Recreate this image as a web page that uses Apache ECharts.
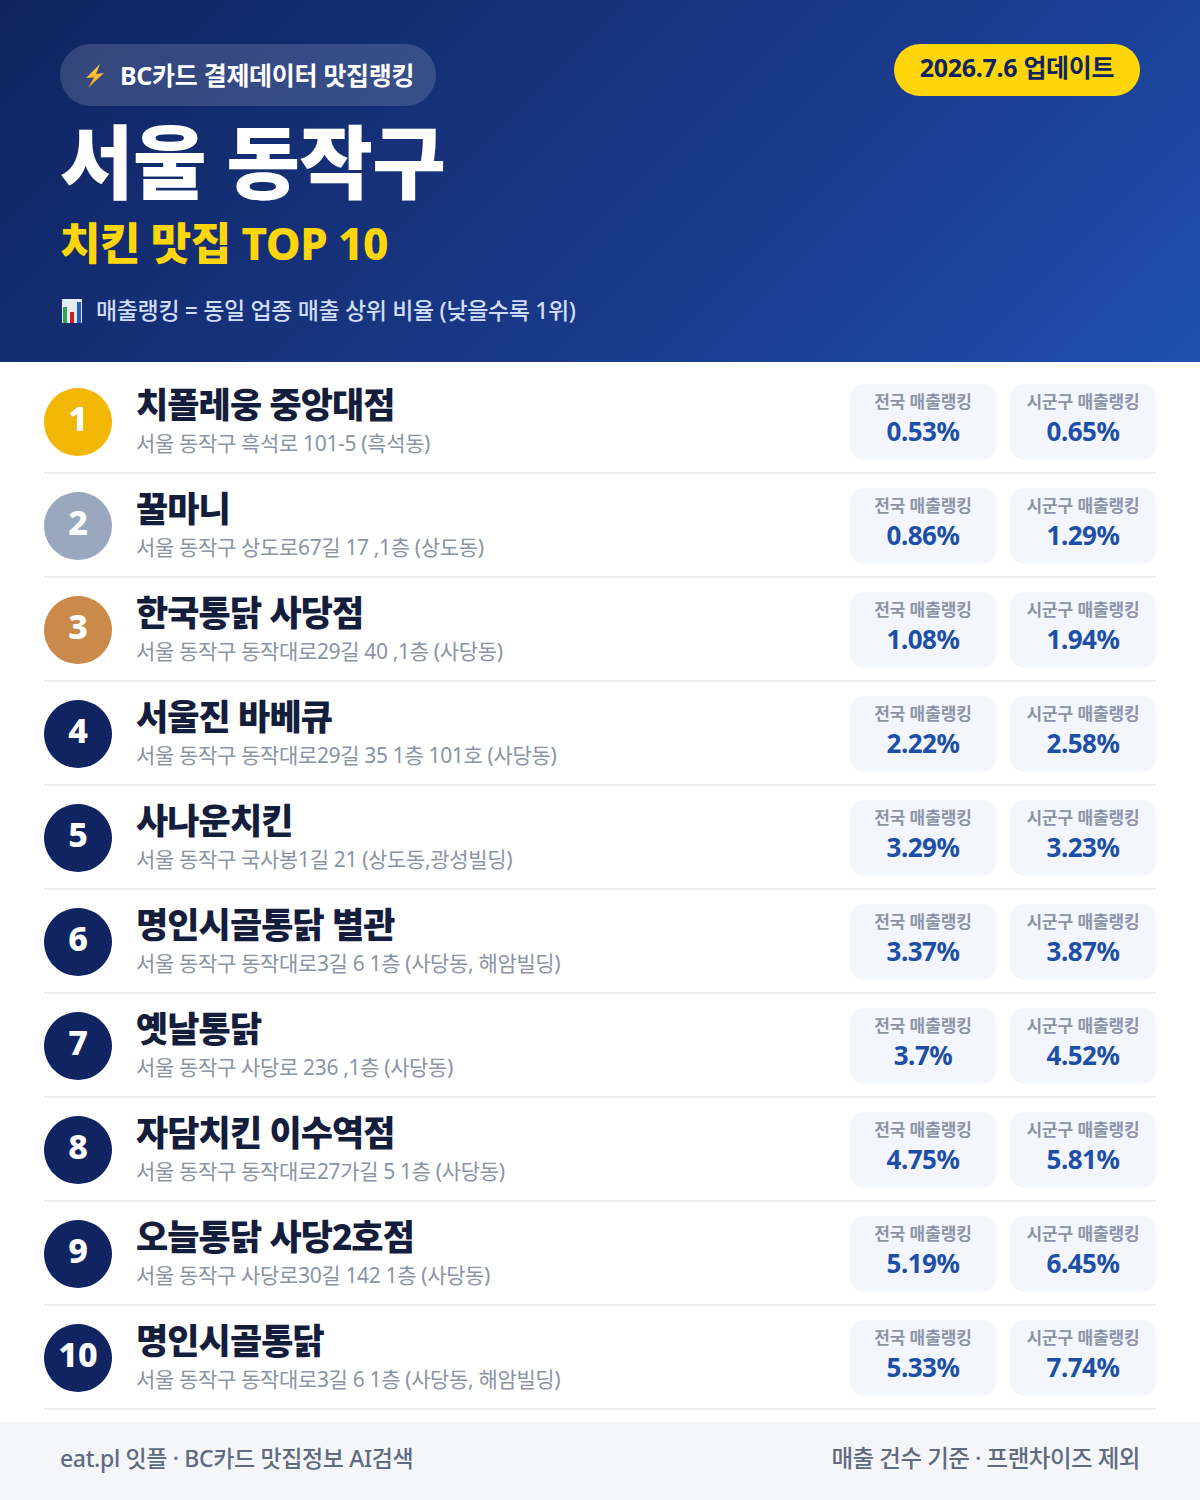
<!DOCTYPE html>
<html lang="ko">
<head>
<meta charset="utf-8">
<style>
html,body{margin:0;padding:0;background:#fff}
#c{width:1200px;height:1500px}
text[style*="80px"]{letter-spacing:-.6px}
text[style*="44px"]{letter-spacing:-.55px}
text[style*="25px"]{letter-spacing:-.3px}
text[style*="35px"]{letter-spacing:-.9px}
text[style*="21px"]{letter-spacing:-.35px}
text[style*="23px"]{letter-spacing:-.35px}
text[style*="23.5px"]{letter-spacing:-.5px}
text[style*="17px"]{letter-spacing:-.1px}
text[style*="26px"]{letter-spacing:-.5px}
</style>
<script src="https://cdn.jsdelivr.net/npm/echarts@6/dist/echarts.min.js"></script>
</head>
<body>
<div id="c"></div>
<script>
const ranks = ['1','2','3','4','5','6','7','8','9','10'];
const names = ['치폴레웅 중앙대점','꿀마니','한국통닭 사당점','서울진 바베큐','사나운치킨','명인시골통닭 별관','옛날통닭','자담치킨 이수역점','오늘통닭 사당2호점','명인시골통닭'];
const addresses = [
  '서울 동작구 흑석로 101-5 (흑석동)',
  '서울 동작구 상도로67길 17 ,1층 (상도동)',
  '서울 동작구 동작대로29길 40 ,1층 (사당동)',
  '서울 동작구 동작대로29길 35 1층 101호 (사당동)',
  '서울 동작구 국사봉1길 21 (상도동,광성빌딩)',
  '서울 동작구 동작대로3길 6 1층 (사당동, 해암빌딩)',
  '서울 동작구 사당로 236 ,1층 (사당동)',
  '서울 동작구 동작대로27가길 5 1층 (사당동)',
  '서울 동작구 사당로30길 142 1층 (사당동)',
  '서울 동작구 동작대로3길 6 1층 (사당동, 해암빌딩)'
];
const nationalRank = [0.53,0.86,1.08,2.22,3.29,3.37,3.7,4.75,5.19,5.33];
const districtRank = [0.65,1.29,1.94,2.58,3.23,3.87,4.52,5.81,6.45,7.74];
const badgeColors = ['#f2b705','#9aa8bf','#c98a4a','#0f2460','#0f2460','#0f2460','#0f2460','#0f2460','#0f2460','#0f2460'];
const labelNational = '전국 매출랭킹';
const labelDistrict = '시군구 매출랭킹';

const FF = '"Noto Sans","Noto Sans CJK KR",sans-serif';
function txt(x,y,text,size,weight,fill,align){
  return {type:'text',silent:true,style:{x:x,y:y,text:text,fill:fill,font:weight+' '+size+'px '+FF,textAlign:align||'left',textVerticalAlign:'middle'}};
}
function card(x,cy,label,value){
  const cx=x+73;
  return [
    {type:'rect',shape:{x:x,y:cy-38,width:146,height:76,r:14},style:{fill:'#f3f6fc'}},
    txt(cx,cy-21,label,17,700,'#8a94a6','center'),
    txt(cx,cy+9,value+'%',26,700,'#1e4fa8','center')
  ];
}
function renderRow(params,api){
  const i=api.value(1);
  const cy=api.coord([0,i])[1];
  return {type:'group',children:[
    {type:'circle',shape:{cx:78,cy:cy,r:34},style:{fill:badgeColors[i]}},
    txt(78,cy-4,ranks[i],34,800,'#ffffff','center'),
    txt(136,cy-18,names[i],35,800,'#141e3c'),
    txt(136,cy+21,addresses[i],21,400,'#8a94a6'),
    {type:'rect',shape:{x:44,y:cy+50,width:1112,height:2},style:{fill:'#eceef2'}}
  ].concat(card(850,cy,labelNational,nationalRank[i]),card(1010,cy,labelDistrict,districtRank[i]))};
}
const option={
  animation:false,
  backgroundColor:'#ffffff',
  grid:{left:0,top:370,width:1200,height:1040},
  xAxis:{type:'value',min:0,max:1200,show:false},
  yAxis:{type:'category',data:ranks,inverse:true,show:false},
  series:[{type:'custom',coordinateSystem:'cartesian2d',clip:false,renderItem:renderRow,encode:{x:0,y:1},
    data:ranks.map((r,i)=>[0,i])}],
  graphic:[
    {type:'rect',z:-1,silent:true,shape:{x:0,y:0,width:1200,height:362},style:{fill:{type:'linear',global:true,x:209.5,y:-209.5,x2:990.5,y2:571.5,
      colorStops:[{offset:0,color:'#0f2460'},{offset:.6,color:'#1a3a8a'},{offset:1,color:'#1e50b0'}]}}},
    {type:'rect',silent:true,shape:{x:60,y:44,width:376,height:62,r:31},style:{fill:'rgba(255,255,255,0.15)'}},
    {type:'polygon',silent:true,shape:{points:[[100,64],[86,78],[94,77.5],[88,88],[104,73],[96,74]]},style:{fill:{type:'linear',x:0,y:0,x2:0,y2:1,colorStops:[{offset:0,color:'#ffd84a'},{offset:1,color:'#f29a1f'}]}}},
    {type:'text',silent:true,style:{x:120,y:75,text:'BC카드 결제데이터 맛집랭킹',fill:'#fff',font:'700 25px '+FF,textVerticalAlign:'middle'}},
    {type:'rect',silent:true,shape:{x:894,y:44,width:246,height:52,r:26},style:{fill:'#ffd60a'}},
    {type:'text',silent:true,style:{x:1017,y:67,text:'2026.7.6 업데이트',fill:'#0f2460',font:'700 25px '+FF,textAlign:'center',textVerticalAlign:'middle'}},
    {type:'text',silent:true,style:{x:60,y:160,text:'서울 동작구',fill:'#fff',font:'900 80px '+FF,textVerticalAlign:'middle'}},
    {type:'text',silent:true,style:{x:60,y:243,text:'치킨 맛집 TOP 10',fill:'#ffd60a',font:'800 44px '+FF,textVerticalAlign:'middle'}},
    {type:'rect',silent:true,shape:{x:62,y:299,width:20,height:24},style:{fill:'#e6ecf4'}},
    {type:'rect',silent:true,shape:{x:63,y:307,width:4,height:16},style:{fill:'#2fa84f'}},
    {type:'rect',silent:true,shape:{x:70,y:312,width:4,height:11},style:{fill:'#d11f2a'}},
    {type:'rect',silent:true,shape:{x:77,y:302,width:4,height:21},style:{fill:'#1f5fc0'}},
    {type:'text',silent:true,style:{x:96,y:310,text:'매출랭킹 = 동일 업종 매출 상위 비율 (낮을수록 1위)',fill:'#cfdcf5',font:'500 23px '+FF,textVerticalAlign:'middle'}},
    {type:'rect',silent:true,shape:{x:0,y:1422,width:1200,height:78},style:{fill:'#f4f6fa'}},
    {type:'text',silent:true,style:{x:60,y:1458,text:'eat.pl 잇플 · BC카드 맛집정보 AI검색',fill:'#5f6b80',font:'500 23px '+FF,textVerticalAlign:'middle'}},
    {type:'text',silent:true,style:{x:1140,y:1458,text:'매출 건수 기준 · 프랜차이즈 제외',fill:'#5f6b80',font:'500 23.5px '+FF,textAlign:'right',textVerticalAlign:'middle'}}
  ]
};
const chart=echarts.init(document.getElementById('c'),null,{renderer:'svg',width:1200,height:1500});
chart.setOption(option);
</script>
</body>
</html>
